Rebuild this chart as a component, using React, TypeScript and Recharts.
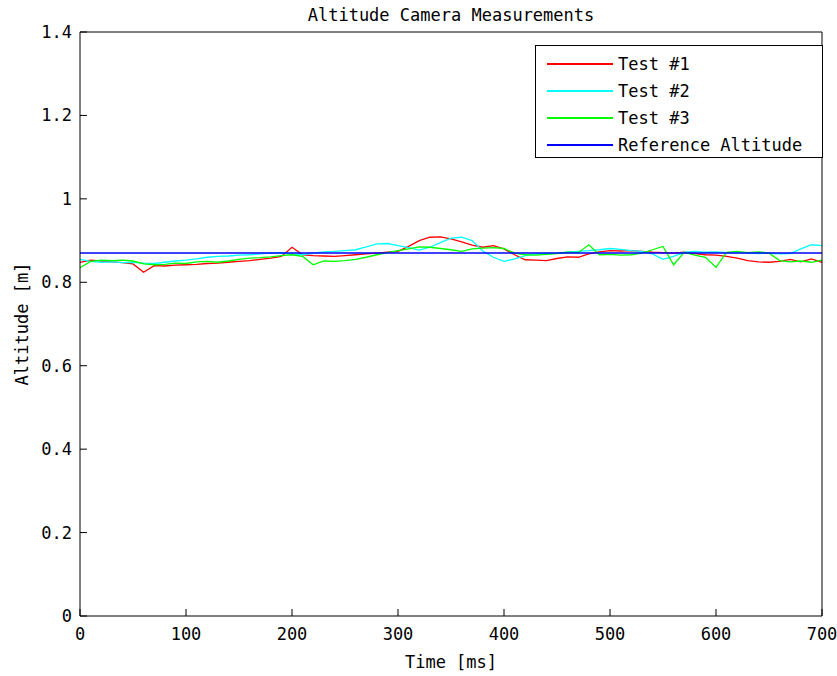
import { LineChart, Line, XAxis, YAxis, Legend } from 'recharts';

const times = [
  0, 10, 20, 30, 40, 50, 60, 70, 80, 90, 100, 110, 120, 130, 140, 150, 160, 170, 180, 190,
  200, 210, 220, 230, 240, 250, 260, 270, 280, 290, 300, 310, 320, 330, 340, 350, 360, 370, 380, 390,
  400, 410, 420, 430, 440, 450, 460, 470, 480, 490, 500, 510, 520, 530, 540, 550, 560, 570, 580, 590,
  600, 610, 620, 630, 640, 650, 660, 670, 680, 690, 700,
];

const test1 = [
  0.848, 0.853, 0.851, 0.849, 0.847, 0.844, 0.824, 0.840, 0.839, 0.841, 0.842, 0.843, 0.845, 0.846, 0.848, 0.85, 0.852, 0.855, 0.858, 0.862,
  0.884, 0.866, 0.864, 0.863, 0.862, 0.864, 0.866, 0.868, 0.87, 0.872, 0.874, 0.886, 0.9, 0.908, 0.909, 0.904, 0.897, 0.889, 0.884, 0.888,
  0.88, 0.866, 0.854, 0.853, 0.852, 0.857, 0.861, 0.86, 0.868, 0.873, 0.876, 0.875, 0.876, 0.874, 0.872, 0.871, 0.87, 0.872, 0.869, 0.866,
  0.865, 0.862, 0.858, 0.852, 0.849, 0.848, 0.85, 0.855, 0.849, 0.856, 0.848,
];

const test2 = [
  0.855, 0.85, 0.848, 0.849, 0.847, 0.848, 0.846, 0.845, 0.848, 0.851, 0.853, 0.856, 0.86, 0.862, 0.863, 0.865, 0.866, 0.868, 0.87, 0.871,
  0.868, 0.866, 0.87, 0.873, 0.874, 0.876, 0.878, 0.885, 0.892, 0.893, 0.888, 0.883, 0.877, 0.884, 0.895, 0.906, 0.908, 0.9, 0.875, 0.86,
  0.85, 0.856, 0.864, 0.868, 0.869, 0.87, 0.872, 0.874, 0.876, 0.878, 0.881, 0.879, 0.876, 0.874, 0.868, 0.855, 0.862, 0.872, 0.874, 0.872,
  0.873, 0.871, 0.872, 0.87, 0.869, 0.87, 0.868, 0.869, 0.88, 0.89, 0.888,
];

const test3 = [
  0.835, 0.85, 0.853, 0.852, 0.853, 0.851, 0.844, 0.842, 0.843, 0.846, 0.845, 0.849, 0.85, 0.848, 0.851, 0.855, 0.858, 0.859, 0.861, 0.864,
  0.866, 0.862, 0.842, 0.851, 0.85, 0.852, 0.855, 0.86, 0.866, 0.871, 0.876, 0.88, 0.885, 0.884, 0.881, 0.878, 0.874, 0.88, 0.882, 0.883,
  0.881, 0.87, 0.866, 0.865, 0.867, 0.869, 0.872, 0.871, 0.89, 0.866, 0.867, 0.865, 0.866, 0.87, 0.878, 0.886, 0.842, 0.872, 0.865, 0.86,
  0.836, 0.872, 0.874, 0.871, 0.873, 0.87, 0.852, 0.849, 0.851, 0.848, 0.853,
];

const referenceAltitude = 0.87;

const xTicks = [0, 100, 200, 300, 400, 500, 600, 700];
const yTicks = [0, 0.2, 0.4, 0.6, 0.8, 1, 1.2, 1.4];

const seriesNames = ['Test #1', 'Test #2', 'Test #3', 'Reference Altitude'];
const seriesColors = ['#ff0000', '#00ffff', '#00ff00', '#0000ff'];

const data = times.map((t, i) => ({
  t,
  test1: test1[i],
  test2: test2[i],
  test3: test3[i],
  ref: referenceAltitude,
}));

const font = '"DejaVu Sans Mono", monospace';
const tickStyle = { fontFamily: font, fontSize: 17, fill: '#000' };

function LegendBox() {
  return (
    <div
      style={{
        width: 288,
        height: 113,
        border: '1px solid #000',
        boxSizing: 'border-box',
        background: '#fff',
        paddingTop: 4,
        fontFamily: font,
        fontSize: 17,
        color: '#000',
      }}
    >
      {seriesNames.map((name, i) => (
        <div key={name} style={{ display: 'flex', alignItems: 'center', height: 27 }}>
          <div style={{ marginLeft: 11, width: 66, height: 2, background: seriesColors[i] }} />
          <span style={{ marginLeft: 5, whiteSpace: 'nowrap' }}>{name}</span>
        </div>
      ))}
    </div>
  );
}

export default function App() {
  return (
    <div style={{ position: 'absolute', left: 0, top: 0, width: 837, height: 676, background: '#fff' }}>
      <LineChart width={837} height={676} data={data} margin={{ top: 31, right: 14, bottom: 0, left: 0 }}>
        <XAxis
          dataKey="t"
          type="number"
          domain={[0, 700]}
          ticks={xTicks}
          height={60}
          stroke="#000"
          tickSize={-7}
          tickMargin={19}
          tick={tickStyle}
        />
        <XAxis
          xAxisId="top"
          orientation="top"
          dataKey="t"
          type="number"
          domain={[0, 700]}
          ticks={xTicks}
          height={1}
          stroke="#000"
          tickSize={-7}
          tick={false}
        />
        <YAxis
          type="number"
          domain={[0, 1.4]}
          ticks={yTicks}
          width={80}
          stroke="#000"
          tickSize={-7}
          tickMargin={15}
          tick={tickStyle}
          tickFormatter={(v: number) => String(v)}
        />
        <YAxis
          yAxisId="right"
          orientation="right"
          type="number"
          domain={[0, 1.4]}
          ticks={yTicks}
          width={1}
          stroke="#000"
          tickSize={-7}
          tick={false}
        />
        <Legend
          layout="vertical"
          align="center"
          verticalAlign="middle"
          content={() => <LegendBox />}
          wrapperStyle={{ position: 'absolute', left: 535, top: 45, width: 288, height: 113 }}
        />
        <Line dataKey="test1" stroke={seriesColors[0]} strokeWidth={1.3} dot={false} isAnimationActive={false} />
        <Line dataKey="test2" stroke={seriesColors[1]} strokeWidth={1.3} dot={false} isAnimationActive={false} />
        <Line dataKey="test3" stroke={seriesColors[2]} strokeWidth={1.3} dot={false} isAnimationActive={false} />
        <Line dataKey="ref" stroke={seriesColors[3]} strokeWidth={1.5} dot={false} isAnimationActive={false} />
      </LineChart>
      <div
        style={{
          position: 'absolute',
          left: 80,
          width: 742,
          top: 5,
          textAlign: 'center',
          fontFamily: font,
          fontSize: 17,
          lineHeight: '20px',
        }}
      >
        Altitude Camera Measurements
      </div>
      <div
        style={{
          position: 'absolute',
          left: 80,
          width: 742,
          top: 652,
          textAlign: 'center',
          fontFamily: font,
          fontSize: 17,
          lineHeight: '20px',
        }}
      >
        Time [ms]
      </div>
      <div
        style={{
          position: 'absolute',
          left: 22,
          top: 324,
          transform: 'translate(-50%, -50%) rotate(-90deg)',
          whiteSpace: 'nowrap',
          fontFamily: font,
          fontSize: 17,
          lineHeight: '20px',
        }}
      >
        Altitude [m]
      </div>
    </div>
  );
}
